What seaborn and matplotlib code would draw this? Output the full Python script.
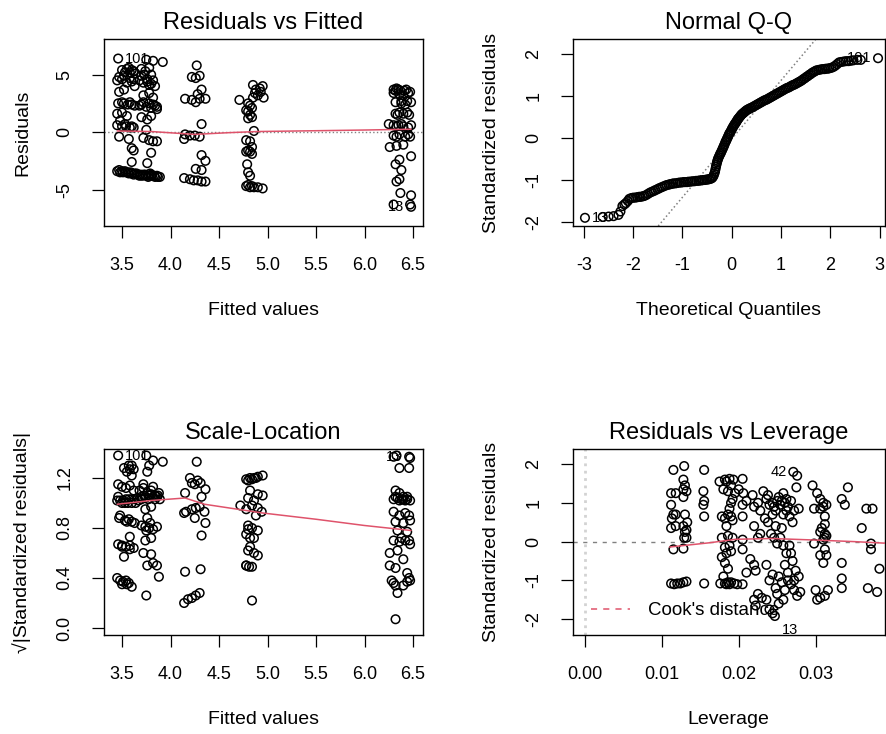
import numpy as np
import pandas as pd
import matplotlib
matplotlib.use("Agg")
import matplotlib.pyplot as plt
from matplotlib.ticker import FormatStrFormatter
import seaborn as sns

# ---------------- data ----------------
# Residuals vs Fitted: (fitted, residual)
rvf_points = [
    (3.46, 6.4), (3.55, 5.5), (3.6, 5.4), (3.62, 5.3), (3.58, 5.2), (3.52, 4.9),
    (3.45, 4.5), (3.5, 4.6), (3.55, 4.3), (3.6, 4.4), (3.63, 4.0), (3.47, 3.5), (3.52, 3.7),
    (3.46, 2.5), (3.52, 2.5), (3.56, 2.4), (3.6, 2.4), (3.63, 2.3),
    (3.45, 1.6), (3.5, 1.7), (3.55, 1.4), (3.48, 1.0),
    (3.45, 0.6), (3.5, 0.5), (3.54, 0.5), (3.58, 0.4), (3.62, 0.4),
    (3.47, -0.4), (3.57, -0.6), (3.6, -1.4), (3.62, -1.6), (3.6, -2.6),
    (3.45, -3.4), (3.48, -3.5), (3.51, -3.5), (3.54, -3.5), (3.57, -3.6), (3.6, -3.6), (3.63, -3.6),
    (3.75, 6.3), (3.82, 6.2), (3.92, 6.1),
    (3.7, 5.5), (3.74, 5.3), (3.78, 5.6), (3.8, 5.0),
    (3.68, 4.5), (3.72, 4.3), (3.76, 4.6), (3.8, 4.2), (3.84, 4.0),
    (3.72, 3.2), (3.78, 3.4), (3.82, 3.0),
    (3.7, 2.4), (3.75, 2.2), (3.8, 2.1), (3.84, 2.3), (3.86, 2.0),
    (3.7, 1.3), (3.76, 1.1), (3.8, 1.4),
    (3.75, 0.2), (3.72, -0.5), (3.78, -0.7), (3.82, -0.8), (3.86, -0.8),
    (3.8, -1.8), (3.76, -2.7),
    (3.66, -3.7), (3.69, -3.7), (3.72, -3.7), (3.75, -3.8), (3.78, -3.8), (3.81, -3.8), (3.84, -3.9), (3.87, -3.9),
    (3.5, 5.4), (3.53, 5.2), (3.57, 5.6), (3.64, 5.1), (3.47, 4.8), (3.58, 4.7), (3.62, 4.6),
    (3.7, 4.9), (3.73, 5.0), (3.76, 4.4), (3.78, 4.1), (3.82, 4.5), (3.72, 2.6), (3.78, 2.5),
    (3.82, 2.4), (3.86, 2.2), (3.68, 2.3), (3.5, 2.6), (3.58, 2.6), (3.53, 0.7), (3.6, 0.5),
    (3.47, -3.3), (3.5, -3.4), (3.53, -3.4), (3.56, -3.5), (3.59, -3.5), (3.62, -3.7), (3.65, -3.6),
    (3.68, -3.8), (3.71, -3.8), (3.74, -3.7), (3.77, -3.9), (3.8, -3.7), (3.83, -3.8), (3.86, -3.8),
    (3.89, -3.9), (3.79, -3.6),
    (4.27, 5.8), (4.22, 4.8), (4.26, 4.7), (4.3, 4.9), (4.32, 3.7), (4.28, 3.3), (4.36, 2.9),
    (4.15, 2.9), (4.22, 2.8), (4.26, 2.6), (4.3, 2.9), (4.32, 0.7),
    (4.15, -0.2), (4.2, -0.3), (4.25, -0.3), (4.3, -0.4), (4.14, -0.6),
    (4.32, -2.0), (4.36, -2.5), (4.26, -3.2), (4.32, -3.3),
    (4.14, -4.0), (4.2, -4.1), (4.24, -4.2), (4.28, -4.2), (4.32, -4.3), (4.36, -4.3),
    (4.85, 4.1), (4.95, 4.0), (4.88, 3.7), (4.93, 3.5), (4.9, 3.2), (4.85, 3.0), (4.96, 3.0),
    (4.71, 2.8), (4.8, 2.5), (4.84, 2.1), (4.78, 1.9), (4.82, 1.5), (4.8, 1.2), (4.84, 1.3), (4.86, 0.1),
    (4.78, -0.7), (4.82, -0.8), (4.8, -1.6), (4.84, -1.9), (4.78, -1.7), (4.84, -1.3),
    (4.79, -2.8), (4.8, -3.5), (4.82, -3.8),
    (4.78, -4.7), (4.82, -4.8), (4.86, -4.8), (4.9, -4.8), (4.95, -4.9),
    (4.87, 3.4), (4.92, 3.8), (4.82, 2.3), (4.8, 1.8), (4.82, -1.7), (4.8, -4.6), (4.84, -4.7),
    (6.3, 3.7), (6.33, 3.8), (6.37, 3.6), (6.41, 3.6), (6.47, 3.5),
    (6.3, 3.4), (6.36, 3.3), (6.4, 3.2), (6.45, 3.4),
    (6.32, 2.6), (6.38, 2.5), (6.44, 2.7), (6.48, 2.6),
    (6.32, 1.6), (6.36, 1.7), (6.4, 1.6), (6.46, 1.5),
    (6.25, 0.7), (6.3, 0.6), (6.35, 0.6), (6.4, 0.5), (6.48, 0.6),
    (6.3, -0.3), (6.36, -0.2), (6.42, -0.4), (6.47, -0.4),
    (6.26, -1.3), (6.33, -1.2), (6.4, -1.1),
    (6.36, -2.4), (6.48, -2.1), (6.32, -2.8), (6.38, -3.3), (6.33, -4.3), (6.36, -4.1),
    (6.37, -5.3), (6.48, -5.5), (6.3, -6.3), (6.48, -6.5), (6.47, -6.3),
    (6.32, 3.6), (6.35, 3.7), (6.43, 3.7), (6.38, 2.7), (6.42, 2.4), (6.34, 1.5), (6.44, 1.7),
    (6.33, 0.5), (6.38, 0.7), (6.45, 0.4), (6.33, -0.4), (6.45, -0.2),
]
rvf_smooth_x = [3.45, 3.8, 4.25, 4.6, 4.9, 5.5, 6.0, 6.48]
rvf_smooth_y = [0.1, 0.05, -0.2, -0.05, 0.05, 0.12, 0.18, 0.25]
rvf_labels = [("101", 3.46, 6.4, "right"), ("13", 6.48, -6.5, "left")]

# Normal Q-Q: (theoretical quantile, standardized residual)
qq_points = [
    (-2.98, -1.90), (-2.62, -1.88), (-2.50, -1.87), (-2.40, -1.86), (-2.30, -1.83),
    (-2.22, -1.62), (-2.15, -1.55), (-2.08, -1.45), (-2.00, -1.42), (-1.92, -1.41),
    (-1.85, -1.40), (-1.78, -1.38), (-1.70, -1.33), (-1.62, -1.28), (-1.55, -1.24),
    (-1.48, -1.20), (-1.40, -1.16), (-1.32, -1.12), (-1.25, -1.10), (-1.18, -1.08),
    (-1.10, -1.07), (-1.02, -1.06), (-0.95, -1.05), (-0.88, -1.04), (-0.80, -1.03),
    (-0.72, -1.02), (-0.65, -1.01), (-0.58, -1.00), (-0.52, -0.99), (-0.46, -0.98),
    (-0.41, -0.96), (-0.37, -0.90), (-0.34, -0.80), (-0.32, -0.68), (-0.30, -0.58),
    (-0.28, -0.50), (-0.25, -0.42), (-0.22, -0.35), (-0.19, -0.27), (-0.16, -0.19),
    (-0.13, -0.10), (-0.10, -0.03), (-0.07, 0.05), (-0.04, 0.12), (-0.01, 0.18),
    (0.02, 0.25), (0.05, 0.31), (0.08, 0.36), (0.11, 0.42), (0.14, 0.47),
    (0.18, 0.53), (0.22, 0.58), (0.26, 0.62), (0.30, 0.66), (0.35, 0.69),
    (0.40, 0.72), (0.46, 0.76), (0.52, 0.80), (0.58, 0.84), (0.64, 0.88),
    (0.70, 0.91), (0.76, 0.95), (0.82, 0.99), (0.88, 1.03), (0.94, 1.07),
    (1.00, 1.11), (1.06, 1.15), (1.12, 1.19), (1.18, 1.22), (1.24, 1.26),
    (1.30, 1.29), (1.36, 1.33), (1.42, 1.37), (1.48, 1.42), (1.54, 1.47),
    (1.60, 1.52), (1.66, 1.57), (1.72, 1.61), (1.80, 1.63), (1.88, 1.64),
    (1.95, 1.65), (2.02, 1.67), (2.10, 1.72), (2.18, 1.80), (2.27, 1.82),
    (2.37, 1.83), (2.47, 1.85), (2.62, 1.86), (2.97, 1.90),
    (-2.26, -1.75), (-2.18, -1.58), (-2.11, -1.50), (-2.04, -1.43), (-1.96, -1.42),
    (-1.88, -1.40), (-1.81, -1.39), (-1.74, -1.36), (-1.66, -1.30), (-1.58, -1.26),
    (-1.51, -1.22), (-1.44, -1.18), (-1.36, -1.14), (-1.28, -1.11), (-1.21, -1.09),
    (-1.14, -1.08), (-1.06, -1.06), (-0.98, -1.05), (-0.91, -1.05), (-0.84, -1.04),
    (-0.76, -1.03), (-0.68, -1.02), (-0.61, -1.01), (-0.55, -1.00), (-0.49, -0.99),
    (-0.43, -0.97), (-0.39, -0.94), (-0.355, -0.85), (-0.33, -0.74), (-0.31, -0.63),
    (-0.29, -0.54), (-0.265, -0.46), (-0.235, -0.38), (-0.205, -0.31), (-0.175, -0.23),
    (-0.145, -0.15), (-0.115, -0.07), (-0.085, 0.01), (-0.055, 0.09), (-0.025, 0.15),
    (0.005, 0.22), (0.035, 0.28), (0.065, 0.34), (0.095, 0.39), (0.125, 0.45),
    (0.16, 0.50), (0.20, 0.56), (0.24, 0.60), (0.28, 0.64), (0.325, 0.68),
    (0.375, 0.71), (0.43, 0.74), (0.49, 0.78), (0.55, 0.82), (0.61, 0.86),
    (0.67, 0.90), (0.73, 0.93), (0.79, 0.97), (0.85, 1.01), (0.91, 1.05),
    (0.97, 1.09), (1.03, 1.13), (1.09, 1.17), (1.15, 1.20), (1.21, 1.24),
    (1.27, 1.27), (1.33, 1.31), (1.39, 1.35), (1.45, 1.40), (1.51, 1.45),
    (1.57, 1.50), (1.63, 1.55), (1.69, 1.59), (1.76, 1.62), (1.84, 1.64),
    (1.91, 1.65), (1.98, 1.66), (2.06, 1.69), (2.14, 1.76), (2.22, 1.81),
    (2.32, 1.83), (2.42, 1.84), (2.55, 1.86),
]
qq_line_intercept = -0.02
qq_line_slope = 1.39
qq_labels = [("13", -2.98, -1.90, "right"), ("101", 2.97, 1.90, "left")]

# Scale-Location: (fitted, sqrt|standardized residual|)
sl_points = [
    (3.46, 1.38), (3.58, 1.27), (3.62, 1.27), (3.55, 1.25), (3.6, 1.22),
    (3.46, 1.15), (3.5, 1.13), (3.54, 1.12), (3.58, 1.14), (3.62, 1.1),
    (3.45, 1.02), (3.48, 1.02), (3.51, 1.02), (3.54, 1.03), (3.57, 1.03), (3.6, 1.03), (3.63, 1.03),
    (3.47, 0.88), (3.53, 0.86), (3.57, 0.87), (3.6, 0.85), (3.63, 0.84),
    (3.46, 0.67), (3.5, 0.66), (3.54, 0.65), (3.58, 0.66), (3.62, 0.64), (3.52, 0.57), (3.58, 0.73),
    (3.45, 0.4), (3.48, 0.38), (3.51, 0.37), (3.54, 0.38), (3.57, 0.36), (3.6, 0.33),
    (3.75, 1.38), (3.82, 1.34), (3.92, 1.33), (3.76, 1.25), (3.78, 1.3),
    (3.68, 1.1), (3.72, 1.12), (3.76, 1.08), (3.8, 1.1), (3.84, 1.06), (3.88, 1.08),
    (3.66, 1.04), (3.7, 1.05), (3.74, 1.04), (3.78, 1.06), (3.82, 1.05), (3.86, 1.05), (3.89, 1.03),
    (3.74, 0.95), (3.8, 0.97), (3.76, 0.88),
    (3.7, 0.82), (3.74, 0.81), (3.78, 0.8), (3.82, 0.79), (3.86, 0.81),
    (3.74, 0.7), (3.8, 0.72), (3.72, 0.6), (3.8, 0.59), (3.76, 0.5), (3.82, 0.52), (3.86, 0.5), (3.88, 0.41),
    (3.75, 0.26),
    (3.46, 1.05), (3.5, 1.0), (3.53, 1.0), (3.56, 1.0), (3.6, 1.0), (3.64, 1.0), (3.67, 1.02),
    (3.7, 1.03), (3.73, 1.06), (3.77, 1.03), (3.8, 1.07), (3.84, 1.03), (3.87, 1.06), (3.52, 1.28),
    (3.57, 1.3), (3.6, 1.3), (3.48, 0.9), (3.55, 0.85), (3.5, 0.65), (3.58, 0.63), (3.5, 0.35),
    (3.55, 0.35), (3.72, 1.15), (3.82, 1.13), (3.79, 0.84), (3.75, 0.78),
    (4.27, 1.33), (4.15, 1.08), (4.22, 1.16), (4.25, 1.15), (4.28, 1.18), (4.31, 1.16), (4.36, 1.11), (4.2, 1.2),
    (4.32, 1.05), (4.3, 0.97), (4.26, 0.96), (4.22, 0.95), (4.16, 0.93), (4.14, 0.92), (4.35, 0.93),
    (4.25, 0.88), (4.36, 0.84), (4.32, 0.74),
    (4.15, 0.45), (4.31, 0.47), (4.14, 0.2), (4.18, 0.23), (4.22, 0.24), (4.26, 0.26), (4.3, 0.28),
    (4.78, 1.19), (4.82, 1.2), (4.86, 1.2), (4.9, 1.21), (4.95, 1.22),
    (4.82, 1.1), (4.9, 1.07), (4.95, 1.06), (4.8, 1.04), (4.86, 1.02),
    (4.84, 0.98), (4.9, 0.96), (4.94, 0.93), (4.72, 0.98), (4.78, 0.95), (4.88, 0.9),
    (4.8, 0.82), (4.84, 0.8), (4.9, 0.78), (4.78, 0.75), (4.82, 0.72), (4.86, 0.72),
    (4.8, 0.62), (4.86, 0.6), (4.82, 0.65), (4.9, 0.58),
    (4.78, 0.5), (4.81, 0.49), (4.84, 0.49), (4.84, 0.22),
    (4.8, 1.18), (4.84, 1.19), (4.88, 1.2), (4.8, 0.79), (4.78, 0.5),
    (6.3, 1.37), (6.33, 1.38), (6.46, 1.37), (6.47, 1.36), (6.36, 1.28), (6.46, 1.28),
    (6.32, 1.1), (6.36, 1.08), (6.4, 1.05), (6.44, 1.03), (6.3, 1.03), (6.34, 1.04), (6.38, 1.03), (6.42, 1.02), (6.47, 1.02),
    (6.3, 0.93), (6.36, 0.9), (6.42, 0.92), (6.46, 0.9), (6.32, 0.85), (6.4, 0.84), (6.47, 0.86),
    (6.34, 0.78), (6.44, 0.77), (6.3, 0.7), (6.36, 0.69), (6.42, 0.7), (6.47, 0.67),
    (6.26, 0.6), (6.34, 0.62), (6.4, 0.55), (6.26, 0.5), (6.32, 0.48), (6.44, 0.44),
    (6.28, 0.38), (6.32, 0.34), (6.4, 0.34), (6.44, 0.37), (6.47, 0.38), (6.34, 0.28),
    (6.32, 0.07),
    (6.32, 1.05), (6.36, 1.02), (6.4, 1.03), (6.44, 1.05), (6.38, 0.72), (6.46, 0.7), (6.3, 0.36), (6.46, 0.4),
]
sl_smooth_x = [3.45, 3.8, 4.15, 4.35, 4.95, 5.5, 6.0, 6.48]
sl_smooth_y = [0.99, 1.02, 1.04, 0.99, 0.92, 0.87, 0.82, 0.78]
sl_labels = [("101", 3.46, 1.38, "right"), ("13", 6.46, 1.37, "left")]

# Residuals vs Leverage: (leverage, standardized residual)
rvl_points = [
    (0.0115, 1.85), (0.0112, 1.25), (0.0118, 1.25), (0.0112, 0.95), (0.0115, 0.7), (0.0112, 0.35),
    (0.0118, 0.4), (0.0115, -0.2), (0.0112, -1.08), (0.0116, -1.1), (0.012, -1.08),
    (0.0129, 1.95), (0.0128, 1.6), (0.013, 1.45), (0.0132, 1.3), (0.0128, 1.15), (0.013, 0.7),
    (0.0133, 0.5), (0.0128, 0.4), (0.013, 0.25), (0.0132, 0.1), (0.0129, 0.1), (0.0128, -0.18),
    (0.0124, -1.08), (0.0128, -1.05), (0.0132, -1.03),
    (0.0155, 1.85), (0.0154, 1.3), (0.0155, 1.05), (0.0154, 0.95), (0.0155, 0.65), (0.0155, -1.08),
    (0.0175, 1.55), (0.0182, 1.6), (0.0188, 1.62), (0.0193, 1.6), (0.018, 1.35), (0.0186, 1.3),
    (0.0192, 1.1), (0.019, 1.0), (0.0178, 0.65), (0.0182, 0.6), (0.0186, 0.7), (0.019, 0.65),
    (0.0184, 0.4), (0.0178, 0.1), (0.0186, 0.15), (0.0192, 0.1), (0.0182, -0.15), (0.0188, -0.1),
    (0.0178, -0.4), (0.0182, -0.55), (0.0186, -0.7), (0.018, -0.9), (0.0176, -1.08), (0.0182, -1.08),
    (0.0186, -1.05), (0.019, -1.05), (0.0194, -1.08), (0.0198, -1.1),
    (0.0205, 1.62), (0.02, 1.35), (0.0206, 1.25), (0.0205, 0.95), (0.0205, 0.65), (0.0205, 0.05),
    (0.0205, -0.2), (0.021, -0.8), (0.0215, -0.45), (0.022, -0.6), (0.0222, -0.75), (0.0205, -1.1),
    (0.022, -1.5), (0.0225, -1.35), (0.023, -1.45), (0.0222, -1.65), (0.021, 1.05), (0.0218, 1.2),
    (0.022, 0.9), (0.0225, 1.0), (0.0228, 0.8), (0.022, 0.4), (0.0225, 0.1), (0.0228, 0.2),
    (0.0232, 1.3), (0.0236, 1.1), (0.024, 0.95), (0.0244, 1.0), (0.0248, 0.8), (0.0252, 1.15),
    (0.0256, 1.05), (0.026, 1.0), (0.0262, 0.8), (0.0266, 0.65), (0.027, 0.5), (0.0272, 0.8),
    (0.0234, 0.6), (0.0238, 0.5), (0.0242, 0.2), (0.0246, 0.1), (0.025, -0.05), (0.0254, 0.1),
    (0.0258, -0.1), (0.0262, -0.3), (0.0266, -0.1), (0.027, -0.5), (0.0274, -0.75),
    (0.0236, -0.6), (0.024, -1.0), (0.0244, -0.85), (0.0248, -1.2), (0.0252, -0.9), (0.0256, -1.05),
    (0.026, -1.25), (0.0264, -1.0), (0.0268, -1.1), (0.0272, -1.25), (0.0276, -1.4),
    (0.0236, -1.5), (0.024, -1.75), (0.0244, -1.85), (0.0247, -1.92), (0.0252, -1.6),
    (0.0262, 1.1), (0.0258, 1.25), (0.0271, 1.8), (0.0276, 1.7), (0.0275, 1.4), (0.0278, 0.85),
    (0.0278, -0.9), (0.028, -1.3), (0.0272, -1.0),
    (0.0184, 1.55), (0.019, 1.45), (0.0195, 1.25), (0.0188, 0.85), (0.0192, 0.55), (0.0184, -0.3),
    (0.019, -0.25), (0.0184, -1.1), (0.0188, -1.1), (0.0238, 1.2), (0.0246, 0.9), (0.025, 1.05),
    (0.0254, 0.95), (0.0258, 0.7), (0.0264, 0.9), (0.0268, 1.05), (0.0244, 0.7), (0.0248, 0.4),
    (0.0256, 0.35), (0.026, -0.6), (0.0264, -0.8), (0.0268, -0.3), (0.025, -1.35), (0.0258, -1.5),
    (0.0128, 1.35), (0.0132, 0.3), (0.0113, 0.6), (0.0118, 0.7), (0.0312, 0.45), (0.0312, 0.1),
    (0.031, 1.0),
    (0.0296, 1.45), (0.0302, 1.25), (0.0306, 1.1), (0.031, 0.9), (0.0314, 0.95), (0.0298, 0.85),
    (0.0306, 0.85), (0.0312, 0.65), (0.0308, 0.35), (0.0312, 0.2), (0.0314, 0.15), (0.0306, 0.25),
    (0.031, 0.05), (0.0298, -0.05), (0.0312, -0.2), (0.0306, -0.35), (0.031, -0.55), (0.0314, -0.35),
    (0.03, -1.25), (0.0306, -1.45), (0.0312, -1.4), (0.0316, -1.25), (0.0302, -1.5),
    (0.0342, 1.4), (0.0334, 1.1), (0.0338, 0.95), (0.0334, -0.55), (0.0334, -0.95), (0.0334, -1.2),
    (0.036, 0.35), (0.0366, 0.85), (0.0374, 0.85), (0.0372, -0.05), (0.0372, -0.2), (0.0383, -0.7),
    (0.0368, -1.2), (0.0380, -1.3),
]
rvl_smooth_x = [0.011, 0.0162, 0.0196, 0.0243, 0.030, 0.035, 0.039]
rvl_smooth_y = [-0.14, -0.03, 0.06, 0.08, 0.04, 0.0, -0.04]
rvl_labels = [("42", 0.0271, 1.8, "left"), ("13", 0.0247, -1.92, "sub")]

RED = "#DF536B"

# ---------------- styling ----------------
sns.set_theme(style="ticks")
plt.rcParams["font.family"] = ["Liberation Sans", "DejaVu Sans"]
plt.rcParams["axes.edgecolor"] = "black"
plt.rcParams["axes.linewidth"] = 1.0
plt.rcParams["text.color"] = "black"
plt.rcParams["axes.labelcolor"] = "black"
plt.rcParams["axes.titlecolor"] = "black"
plt.rcParams["axes.unicode_minus"] = False

W, H = 886, 734
fig = plt.figure(figsize=(W / 100, H / 100), dpi=100)
fig.patch.set_facecolor("white")


def px_axes(l, t, r, b):
    return fig.add_axes([l / W, 1 - b / H, (r - l) / W, (b - t) / H])


ax1 = px_axes(104, 39, 423, 226)
ax2 = px_axes(573, 39, 884.5, 226)
ax3 = px_axes(104, 449, 423, 635)
ax4 = px_axes(573, 449, 884.5, 635)


def scatter(ax, pts, cols):
    df = pd.DataFrame(pts, columns=cols)
    sns.scatterplot(data=df, x=cols[0], y=cols[1], ax=ax, marker="o",
                    facecolor="none", edgecolor="black", s=38, linewidth=1.1,
                    legend=False, zorder=3)


def smooth(ax, xs, ys, cols):
    df = pd.DataFrame({cols[0]: xs, cols[1]: ys})
    sns.lineplot(data=df, x=cols[0], y=cols[1], ax=ax, color=RED, linewidth=1.1,
                 sort=False, estimator=None, zorder=4)


def labels(ax, items):
    for txt, x, y, side in items:
        if side == "right":
            ax.annotate(txt, (x, y), xytext=(5, 0), textcoords="offset points",
                        ha="left", va="center", fontsize=10.5)
        elif side == "left":
            ax.annotate(txt, (x, y), xytext=(-5, 0), textcoords="offset points",
                        ha="right", va="center", fontsize=10.5)
        else:
            ax.annotate(txt, (x, y), xytext=(5, -10), textcoords="offset points",
                        ha="left", va="center", fontsize=10.5)


def style(ax, title, xlabel, ylabel, xlim, ylim, xticks, yticks):
    ax.set_xlim(*xlim)
    ax.set_ylim(*ylim)
    ax.set_xticks(xticks)
    ax.set_yticks(yticks)
    ax.set_title(title, fontsize=17, pad=7)
    ax.set_xlabel(xlabel, fontsize=14)
    ax.set_ylabel(ylabel, fontsize=14)
    pos = ax.get_position()
    hpx = pos.height * H
    wpx = pos.width * W
    ax.xaxis.set_label_coords(0.5, -76 / hpx)
    ax.yaxis.set_label_coords(-73 / wpx, 0.5)
    ax.tick_params(direction="out", length=8.5, width=0.9, pad=13.5,
                   labelsize=13, color="black", labelcolor="black")
    ax.tick_params(axis="y", labelrotation=90)
    for lab in ax.get_yticklabels():
        lab.set_va("center")
    for sp in ax.spines.values():
        sp.set_visible(True)
        sp.set_color("black")
        sp.set_linewidth(1.0)
    ax.set_facecolor("white")


# Panel 1: Residuals vs Fitted
ax1.axhline(0, color="gray", linestyle=":", linewidth=1.0, zorder=1)
scatter(ax1, rvf_points, ["fitted", "resid"])
smooth(ax1, rvf_smooth_x, rvf_smooth_y, ["fitted", "resid"])
labels(ax1, rvf_labels)
style(ax1, "Residuals vs Fitted", "Fitted values", "Residuals",
      (3.314, 6.603), (-8.17, 8.1), [3.5, 4.0, 4.5, 5.0, 5.5, 6.0, 6.5], [-5, 0, 5])
ax1.xaxis.set_major_formatter(FormatStrFormatter("%.1f"))

# Panel 2: Normal Q-Q
ax2.axline((0, qq_line_intercept), slope=qq_line_slope, color="gray",
           linestyle=":", linewidth=1.1, zorder=1)
scatter(ax2, qq_points, ["theor", "std"])
labels(ax2, qq_labels)
style(ax2, "Normal Q-Q", "Theoretical Quantiles", "Standardized residuals",
      (-3.223, 3.101), (-2.095, 2.357), [-3, -2, -1, 0, 1, 2, 3], [-2, -1, 0, 1, 2])

# Panel 3: Scale-Location
scatter(ax3, sl_points, ["fitted", "sqrtstd"])
smooth(ax3, sl_smooth_x, sl_smooth_y, ["fitted", "sqrtstd"])
labels(ax3, sl_labels)
style(ax3, "Scale-Location", "Fitted values", "√|Standardized residuals|",
      (3.314, 6.603), (-0.056, 1.432), [3.5, 4.0, 4.5, 5.0, 5.5, 6.0, 6.5], [0.0, 0.4, 0.8, 1.2])
ax3.xaxis.set_major_formatter(FormatStrFormatter("%.1f"))
ax3.yaxis.set_major_formatter(FormatStrFormatter("%.1f"))

# Panel 4: Residuals vs Leverage
ax4.axhline(0, color="gray", linestyle=(0, (3, 4)), linewidth=1.0, zorder=1)
ax4.axvline(0, color="lightgray", linestyle=":", linewidth=2.0, zorder=1)
scatter(ax4, rvl_points, ["lev", "std"])
smooth(ax4, rvl_smooth_x, rvl_smooth_y, ["lev", "std"])
labels(ax4, rvl_labels)
style(ax4, "Residuals vs Leverage", "Leverage", "Standardized residuals",
      (-0.00156, 0.03896), (-2.41, 2.39), [0.00, 0.01, 0.02, 0.03], [-2, -1, 0, 1, 2])
ax4.xaxis.set_major_formatter(FormatStrFormatter("%.2f"))
ax4.plot([], [], color=RED, linestyle=(0, (4, 4)), linewidth=1.1, label="Cook's distance")
ax4.legend(loc="center left", bbox_to_anchor=(0.058, 0.13), frameon=False,
           fontsize=13.5, handlelength=2.1, handletextpad=0.95, borderpad=0,
           borderaxespad=0)

fig.savefig("out.png", dpi=100, facecolor="white")
